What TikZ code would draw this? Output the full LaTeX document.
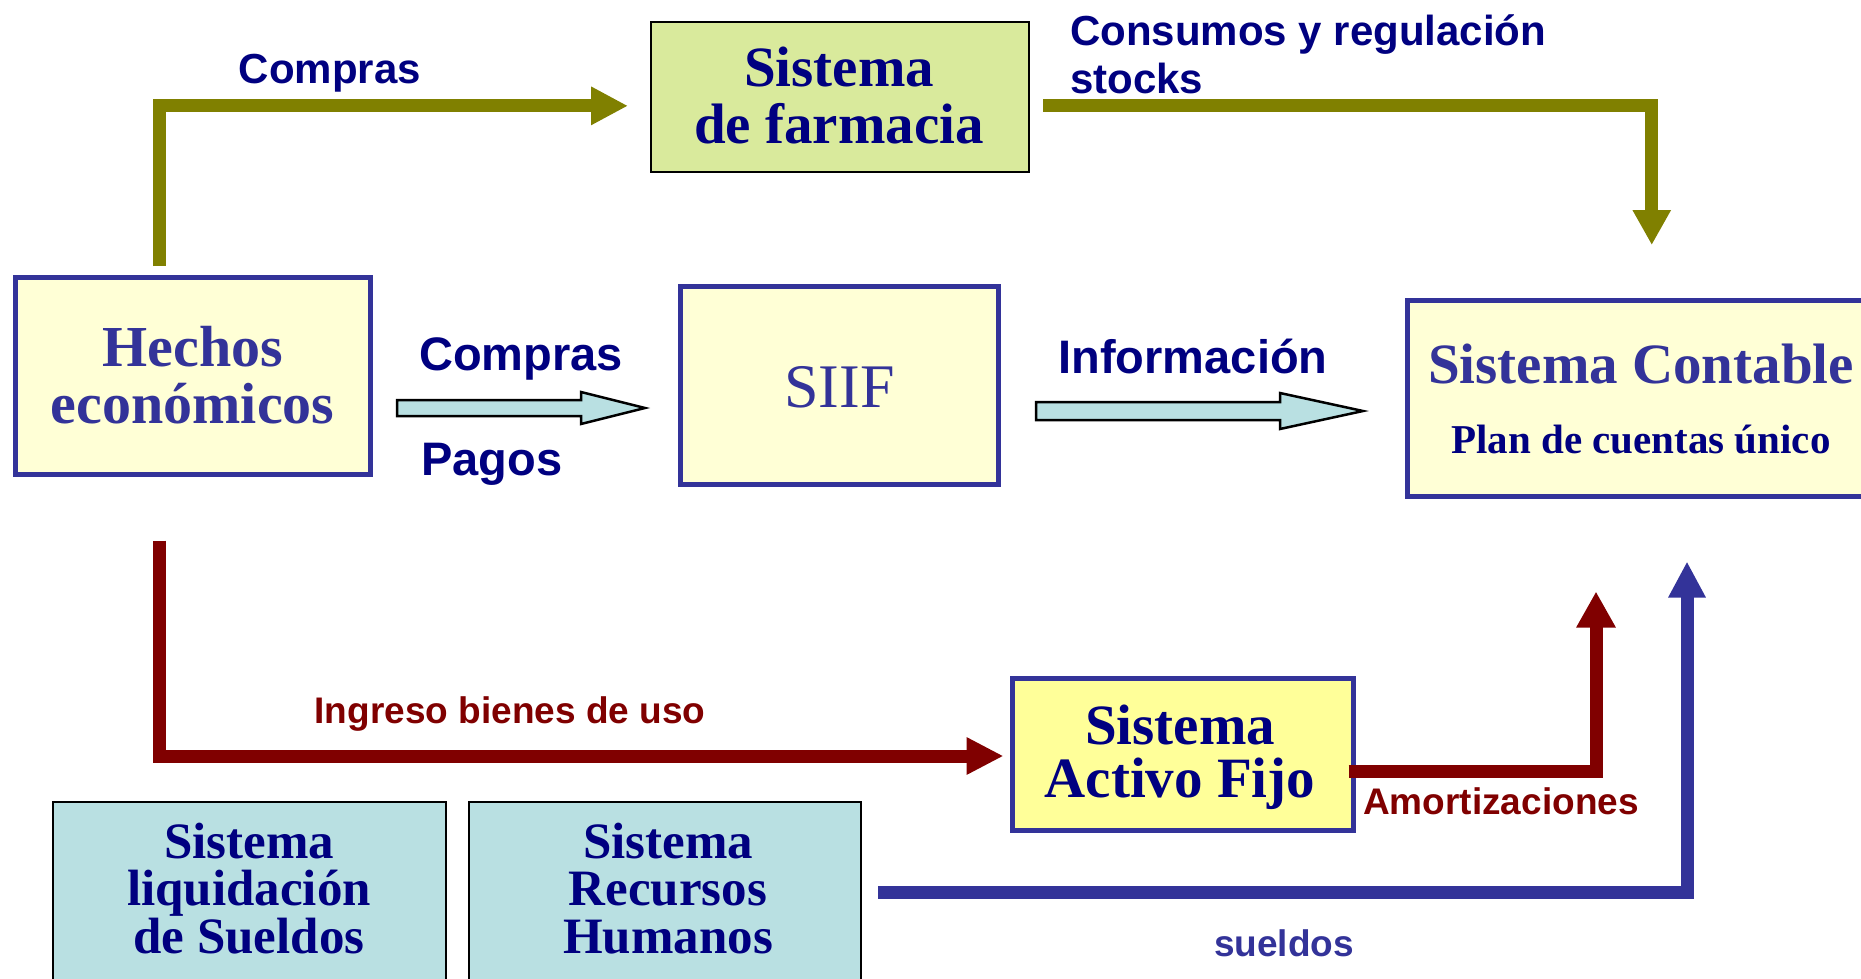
\documentclass[tikz,border=0pt]{standalone}
\usepackage{fontspec}
\setmainfont{Liberation Serif}
\setsansfont{Liberation Sans}
\usetikzlibrary{arrows.meta,calc}
\definecolor{navy}{HTML}{000080}
\definecolor{bblue}{HTML}{333399}
\definecolor{olivec}{HTML}{808000}
\definecolor{dred}{HTML}{800000}
\definecolor{lyellow}{HTML}{FFFFD6}
\definecolor{ayellow}{HTML}{FFFF99}
\definecolor{lgreen}{HTML}{D9EA9C}
\definecolor{lcyan}{HTML}{B9E0E2}
\newcommand\myfs[2]{\fontsize{#1}{#2}\selectfont\lineskiplimit=-100pt\relax}
\begin{document}
\begin{tikzpicture}[x=1pt,y=-1pt,
  ybox/.style={rectangle, inner sep=0, fill=lyellow, draw=bblue, line width=5},
  abox/.style={rectangle, inner sep=0, fill=ayellow, draw=bblue, line width=5},
  gbox/.style={rectangle, inner sep=0, fill=lgreen, draw=black, line width=2},
  cbox/.style={rectangle, inner sep=0, fill=lcyan, draw=black, line width=2},
  txt/.style={inner sep=0, anchor=base, text width=520, align=flush center},
  lab/.style={inner sep=0, anchor=base},
  conn/.style={line width=13, line join=miter},
  barrow/.style={fill=lcyan, draw=black, line width=2.5, line join=miter}
]
\useasboundingbox (0,0) rectangle (1861,978);
\clip (0,0) rectangle (1861,978);

% boxes
\node[ybox, minimum width=355, minimum height=197] (hechos) at (193,376) {};
\node[ybox, minimum width=318, minimum height=198] (siif) at (839.5,385.5) {};
\node[ybox, minimum width=482, minimum height=196] (cont) at (1648.75,398.5) {};
\node[abox, minimum width=341, minimum height=152] (activo) at (1183,754.5) {};
\node[gbox, minimum width=377.5, minimum height=150] (farm) at (839.75,96.85) {};
\node[cbox, minimum width=392.6, minimum height=197] (liq) at (249.3,900) {};
\node[cbox, minimum width=392, minimum height=197] (rrhh) at (665,900) {};

% box texts
\node[txt, text=bblue, font=\myfs{58}{57}\bfseries] (hechos-t) at (192.6,366) {Hechos\\económicos};
\node[txt, text=bblue, font=\myfs{62}{62}] (siif-t) at (839.5,407) {SIIF};
\node[txt, text=navy, font=\myfs{57}{57}\bfseries] (farm-t) at (839,86) {Sistema\\de farmacia};
\node[txt, text=bblue, font=\myfs{57}{57}\bfseries] (cont-t) at (1641,383) {Sistema Contable\\[13pt]{\color{navy}\myfs{41}{41}Plan de cuentas único}};
\node[txt, text=navy, font=\myfs{57}{53}\bfseries] (activo-t) at (1180,744) {Sistema\\Activo Fijo};
\node[txt, text=navy, font=\myfs{51}{47.5}\bfseries] (liq-t) at (249,858) {Sistema\\liquidación\\de Sueldos};
\node[txt, text=navy, font=\myfs{51}{47.5}\bfseries] (rrhh-t) at (668,858) {Sistema\\Recursos\\Humanos};

% labels
\node[lab, text=navy, font=\sffamily\bfseries\myfs{42}{48}] (l-compras1) at (330,83) {Compras};
\node[inner sep=0, anchor=base west, text width=600, align=flush left, text=navy, font=\sffamily\bfseries\myfs{42}{48}] (l-consumos) at (1070,45) {Consumos y regulación\\stocks};
\node[lab, text=navy, font=\sffamily\bfseries\myfs{47}{47}] (l-compras2) at (521,370) {Compras};
\node[lab, text=navy, font=\sffamily\bfseries\myfs{47}{47}] (l-pagos) at (492,475) {Pagos};
\node[lab, text=navy, font=\sffamily\bfseries\myfs{47}{47}] (l-info) at (1193,373) {Información};
\node[lab, text=dred, font=\sffamily\bfseries\myfs{37}{37}] (l-ingreso) at (510,723) {Ingreso bienes de uso};
\node[lab, text=dred, font=\sffamily\bfseries\myfs{37}{37}] (l-amort) at (1501,814) {Amortizaciones};
\node[lab, text=bblue, font=\sffamily\bfseries\myfs{37}{37}] (l-sueldos) at (1284,956) {sueldos};

% connector end points
\coordinate (o1s) at ($(hechos.south)+(-34,-211)$);
\coordinate (o1e) at ($(farm.west)+(-22,9)$);
\coordinate (o2s) at ($(farm.east)+(13.5,9)$);
\coordinate (o2e) at ($(cont.north)+(3,-53)$);
\coordinate (r1s) at ($(hechos.south)+(-34,63.5)$);
\coordinate (r1e) at ($(activo.west)+(-6.5,1.5)$);
\coordinate (r2s) at ($(activo.east)+(-7.5,16.5)$);
\coordinate (r2e) at ($(cont.south)+(-52.75,92.5)$);
\coordinate (bs) at ($(rrhh.east)+(16,-8)$);
\coordinate (be) at ($(cont.south)+(38.25,62.5)$);

% connectors
\draw[conn, olivec, -{Triangle[length=37pt, width=36pt]}] (o1s) |- (o1e);
\draw[conn, olivec, -{Triangle[length=35pt, width=36pt]}] (o2s) -| (o2e);
\draw[conn, dred, -{Triangle[length=37pt, width=35pt]}] (r1s) |- (r1e);
\draw[conn, dred, -{Triangle[length=36pt, width=37pt]}] (r2s) -| (r2e);
\draw[conn, bblue, -{Triangle[length=36pt, width=35pt]}] (bs) -| (be);

% block arrows
\draw[barrow] (397,400) -- (581,400) -- (581,392) -- (645,408) -- (581,424) -- (581,416) -- (397,416) -- cycle;
\draw[barrow] (1036,402) -- (1280,402) -- (1280,393) -- (1363,411) -- (1280,429) -- (1280,420) -- (1036,420) -- cycle;
\end{tikzpicture}
\end{document}
